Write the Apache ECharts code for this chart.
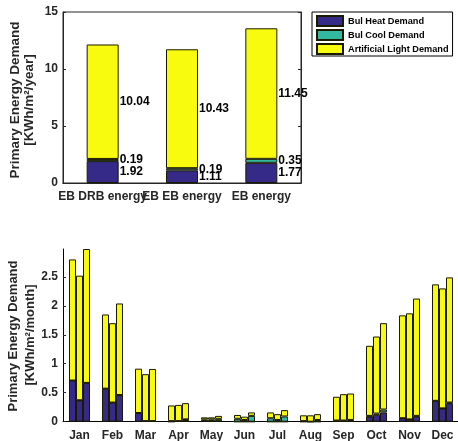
<!DOCTYPE html>
<html><head><meta charset="utf-8">
<script src="https://cdn.jsdelivr.net/npm/echarts@6/dist/echarts.min.js"></script>
<style>html,body{margin:0;padding:0;background:#fff}#c{width:458px;height:441px}</style>
</head><body><div id="c"></div>
<script>
// ---- Data ----
const caseNames = ['EB DRB energy', 'EB EB energy', 'EB energy'];
const compNames = ['Bul Heat Demand', 'Bul Cool Demand', 'Artificial Light Demand'];
const annualHeat  = [1.92, 1.11, 1.77];
const annualCool  = [0.19, 0.19, 0.35];
const annualLight = [10.04, 10.43, 11.45];
const yearTicks = [0, 5, 10, 15];

const months = ['Jan','Feb','Mar','Apr','May','Jun','Jul','Aug','Sep','Oct','Nov','Dec'];
// EB DRB energy
const heatDRB  = [0.71, 0.57, 0.15, 0.00, 0.01, 0.00, 0.00, 0.00, 0.01, 0.09, 0.06, 0.36];
const coolDRB  = [0.00, 0.00, 0.00, 0.01, 0.03, 0.05, 0.06, 0.01, 0.01, 0.01, 0.00, 0.00];
const lightDRB = [2.09, 1.28, 0.765, 0.27, 0.035, 0.066, 0.10, 0.10, 0.41, 1.21, 1.775, 2.01];
// EB EB energy
const heatEB  = [0.37, 0.33, 0.01, 0.01, 0.01, 0.00, 0.00, 0.00, 0.01, 0.12, 0.04, 0.23];
const coolEB  = [0.00, 0.00, 0.00, 0.00, 0.03, 0.03, 0.03, 0.00, 0.01, 0.02, 0.00, 0.00];
const lightEB = [2.15, 1.37, 0.81, 0.28, 0.035, 0.057, 0.10, 0.11, 0.455, 1.33, 1.83, 2.07];
// EB energy
const heatE  = [0.67, 0.46, 0.01, 0.03, 0.01, 0.00, 0.00, 0.00, 0.02, 0.16, 0.09, 0.32];
const coolE  = [0.00, 0.00, 0.00, 0.01, 0.04, 0.10, 0.09, 0.03, 0.01, 0.05, 0.01, 0.01];
const lightE = [2.31, 1.58, 0.90, 0.28, 0.05, 0.06, 0.11, 0.10, 0.456, 1.49, 2.025, 2.16];

const yTitleTop = ['Primary Energy Demand', '[KWh/m²/year]'];
const yTitleBottom = ['Primary Energy Demand', '[KWh/m²/month]'];

// ---- Style ----
const colors = ['#352A87', '#33B8A1', '#F9FB0E'];
const FONT = '"Liberation Sans", Arial, sans-serif';
const axisCol = '#262626';

const chart = echarts.init(document.getElementById('c'), null, {renderer: 'canvas'});

const annual = [annualHeat, annualCool, annualLight];
const monthly = [[heatDRB, coolDRB, lightDRB], [heatEB, coolEB, lightEB], [heatE, coolE, lightE]];

const series = [];
annual.forEach((arr, k) => {
  series.push({
    type: 'bar', name: compNames[k], xAxisIndex: 0, yAxisIndex: 0, stack: 'annual',
    barWidth: 32, data: arr,
    itemStyle: {color: colors[k], borderColor: '#1a1a00', borderWidth: 1},
    label: {show: true, position: 'right', distance: 1, color: '#000',
      fontFamily: FONT, fontWeight: 'bold', fontSize: 12,
      formatter: p => p.value.toFixed(2)}
  });
});
monthly.forEach((caseArr, c) => {
  caseArr.forEach((arr, k) => {
    series.push({
      type: 'bar', name: compNames[k], xAxisIndex: 2, yAxisIndex: 2, stack: 'case' + c,
      barWidth: 7, barGap: '0%', data: arr,
      itemStyle: {color: colors[k], borderColor: '#1a1a00', borderWidth: 1}
    });
  });
});

const tickLabel = {color: axisCol, fontFamily: FONT, fontWeight: 'bold', fontSize: 12};

function vtext(str, x, y, size) {
  return {type: 'text', x: x, y: y, rotation: Math.PI / 2, silent: true,
    style: {text: str, fill: axisCol, font: 'bold ' + size + 'px ' + FONT,
      align: 'center', verticalAlign: 'middle'}};
}

chart.setOption({
  animation: false,
  backgroundColor: '#fff',
  graphic: [
    vtext(yTitleTop[0], 15, 100, 13.5),
    vtext(yTitleTop[1], 29, 100, 13.5),
    vtext(yTitleBottom[0], 13, 336, 13),
    vtext(yTitleBottom[1], 30, 335, 13)
  ],
  legend: {
    data: compNames, orient: 'vertical', left: 312, top: 12, icon: 'rect',
    padding: [3, 4, 1, 4], itemWidth: 26, itemHeight: 10, itemGap: 2,
    borderColor: '#000', borderWidth: 1, backgroundColor: '#fff',
    textStyle: {color: '#000', fontFamily: FONT, fontWeight: 'bold', fontSize: 9.2},
    selectedMode: false
  },
  grid: [
    {left: 63, top: 12, width: 238, height: 171, show: true, borderColor: axisCol, borderWidth: 1,
      backgroundColor: 'transparent', containLabel: false, outerBoundsMode: 'none'},
    {left: 63, top: 249, width: 396, height: 172.7, containLabel: false, outerBoundsMode: 'none'}
  ],
  xAxis: [
    {gridIndex: 0, type: 'category', data: caseNames, position: 'bottom',
      axisLine: {lineStyle: {color: axisCol}},
      axisTick: {inside: true, alignWithLabel: true, length: 3, lineStyle: {color: axisCol}},
      axisLabel: Object.assign({margin: 8, fontSize: 11, interval: 0, hideOverlap: false}, tickLabel)},
    {gridIndex: 0, type: 'category', data: caseNames, position: 'top',
      axisLine: {lineStyle: {color: axisCol}},
      axisTick: {inside: true, alignWithLabel: true, length: 3, lineStyle: {color: axisCol}},
      axisLabel: {show: false}},
    {gridIndex: 1, type: 'category', data: months,
      axisLine: {lineStyle: {color: '#000'}},
      axisTick: {show: false},
      axisLabel: Object.assign({margin: 8, interval: 0}, tickLabel)}
  ],
  yAxis: [
    {gridIndex: 0, type: 'value', min: 0, max: 15, interval: 5,
      splitLine: {show: false},
      axisLine: {show: true, lineStyle: {color: axisCol}},
      axisTick: {show: true, inside: true, length: 3, lineStyle: {color: axisCol}},
      axisLabel: Object.assign({margin: 5}, tickLabel)},
    {gridIndex: 0, type: 'value', min: 0, max: 15, interval: 5, position: 'right',
      splitLine: {show: false},
      axisLine: {show: true, lineStyle: {color: axisCol}},
      axisTick: {show: true, inside: true, length: 3, lineStyle: {color: axisCol}},
      axisLabel: {show: false}},
    {gridIndex: 1, type: 'value', min: 0, max: 2.98, interval: 0.5,
      splitLine: {show: false},
      axisLine: {show: true, lineStyle: {color: '#000'}},
      axisTick: {show: true, inside: true, length: 3, lineStyle: {color: axisCol}},
      axisLabel: Object.assign({margin: 5, showMaxLabel: false,
        formatter: v => (Math.abs(v * 2 - Math.round(v * 2)) < 1e-6 ? String(v) : '')}, tickLabel)}
  ],
  series: series
});
</script></body></html>
